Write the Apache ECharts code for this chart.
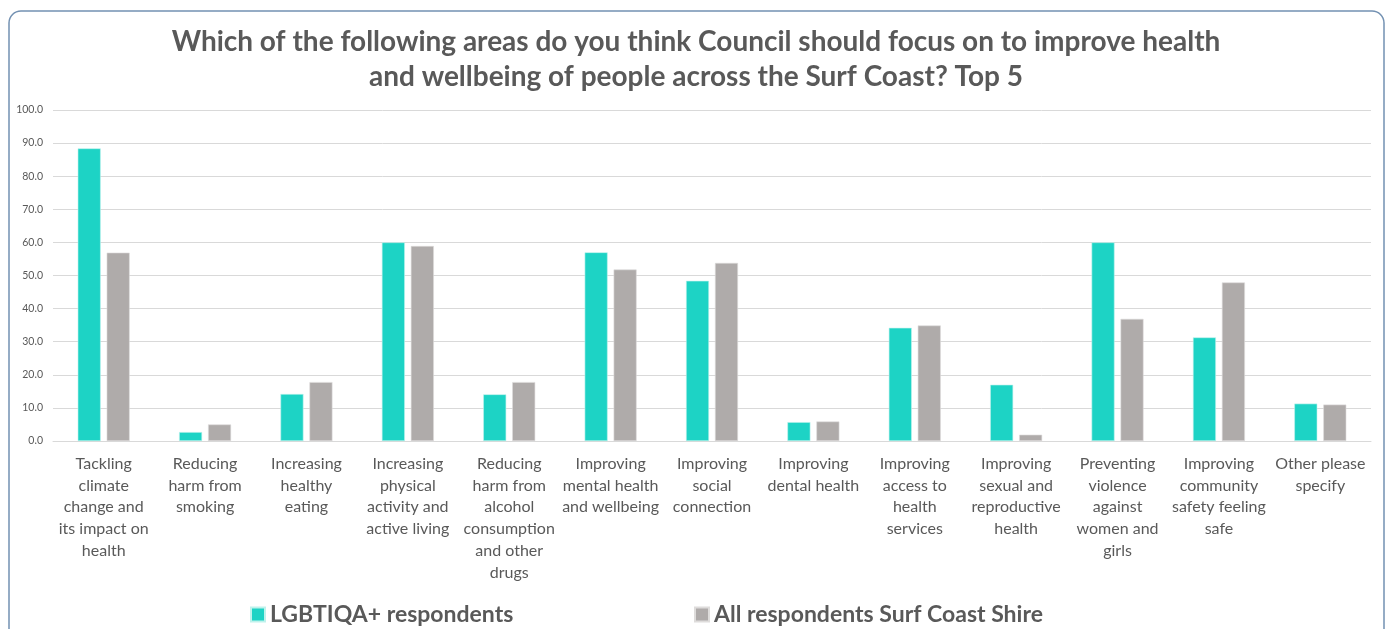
<!DOCTYPE html>
<html>
<head>
<meta charset="utf-8">
<script src="https://cdn.jsdelivr.net/npm/echarts@6/dist/echarts.min.js"></script>
<style>
  html, body { margin: 0; padding: 0; background: #ffffff; }
  #chart { width: 1391px; height: 629px; }
</style>
</head>
<body>
<div id="chart"></div>
<script>
// Focus areas (axis labels, pre-wrapped as they appear under each group)
const categories = [
  'Tackling\nclimate\nchange and\nits impact on\nhealth',
  'Reducing\nharm from\nsmoking',
  'Increasing\nhealthy\neating',
  'Increasing\nphysical\nactivity and\nactive living',
  'Reducing\nharm from\nalcohol\nconsumption\nand other\ndrugs',
  'Improving\nmental health\nand wellbeing',
  'Improving\nsocial\nconnection',
  'Improving\ndental health',
  'Improving\naccess to\nhealth\nservices',
  'Improving\nsexual and\nreproductive\nhealth',
  'Preventing\nviolence\nagainst\nwomen and\ngirls',
  'Improving\ncommunity\nsafety feeling\nsafe',
  'Other please\nspecify'
];

const seriesNames = ['LGBTIQA+ respondents', 'All respondents Surf Coast Shire'];

// Percentage of respondents choosing each area in their top 5
const lgbtiqaValues = [88.4, 2.7, 14.2, 60.0, 14.1, 57.0, 48.4, 5.7, 34.2, 17.0, 60.0, 31.3, 11.3];
const allValues     = [56.9, 5.0, 17.8, 58.9, 17.8, 51.8, 53.8, 5.9, 34.9, 1.9, 36.9, 47.9, 11.0];

const chart = echarts.init(document.getElementById('chart'));

const textGrey = '#595959';
const font = 'Lato, "Open Sans", sans-serif';

const legendText = { fontFamily: font, fontSize: 23, fontWeight: 'bold', color: textGrey };

chart.setOption({
  backgroundColor: '#ffffff',
  animation: false,
  graphic: [{
    type: 'rect',
    silent: true,
    shape: { x: 9, y: 11, width: 1375, height: 700, r: 12 },
    style: { fill: 'none', stroke: '#7391b2', lineWidth: 1.5 }
  }],
  title: {
    text: 'Which of the following areas do you think Council should focus on to improve health\nand wellbeing of people across the Surf Coast? Top 5',
    left: 696,
    top: 24,
    padding: 0,
    textAlign: 'center',
    textStyle: {
      fontFamily: font,
      fontSize: 28,
      fontWeight: 'bold',
      color: textGrey,
      lineHeight: 35
    }
  },
  legend: [{
    data: [seriesNames[0]],
    left: 250,
    top: 603,
    padding: 0,
    itemWidth: 14,
    itemHeight: 14,
    icon: 'rect',
    textStyle: legendText
  }, {
    data: [seriesNames[1]],
    left: 694,
    top: 603,
    padding: 0,
    itemWidth: 14,
    itemHeight: 14,
    icon: 'rect',
    textStyle: legendText
  }],
  grid: {
    left: 53,
    right: 20,
    top: 110,
    bottom: 188
  },
  xAxis: {
    type: 'category',
    data: categories,
    axisLine: { lineStyle: { color: '#d9d9d9', width: 1 } },
    axisTick: { show: false },
    axisLabel: {
      interval: 0,
      margin: 12,
      fontFamily: font,
      fontSize: 16,
      lineHeight: 21.7,
      color: textGrey,
      align: 'center',
      verticalAlign: 'top'
    }
  },
  yAxis: {
    type: 'value',
    min: 0,
    max: 100,
    interval: 10,
    axisLine: { show: false },
    axisTick: { show: false },
    splitLine: { lineStyle: { color: '#d9d9d9', width: 1 } },
    axisLabel: {
      margin: 10,
      fontFamily: font,
      fontSize: 10.5,
      color: textGrey,
      formatter: v => v.toFixed(1)
    }
  },
  series: [{
    name: seriesNames[0],
    type: 'bar',
    data: lgbtiqaValues,
    barWidth: 23,
    barGap: '26%',
    itemStyle: { color: '#1dd3c5', borderColor: '#bff2ec', borderWidth: 0.6 }
  }, {
    name: seriesNames[1],
    type: 'bar',
    data: allValues,
    barWidth: 23,
    itemStyle: { color: '#afabaa', borderColor: '#dedcdb', borderWidth: 0.6 }
  }]
});
</script>
</body>
</html>
